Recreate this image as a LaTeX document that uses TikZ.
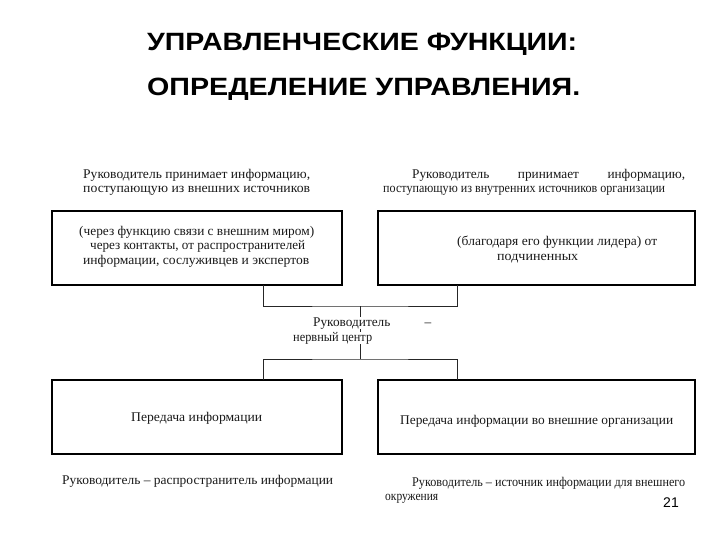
\documentclass[tikz,border=0pt]{standalone}
\usepackage{fontspec}
\setmainfont{Liberation Serif}
\newfontfamily\arialfont{Liberation Sans}
\newcommand{\fw}[2]{\resizebox{#1pt}{\height}{#2}}
\begin{document}
\begin{tikzpicture}[x=1pt,y=-1pt,
  box/.style={draw=black,line width=1.6pt},
  conn/.style={draw=black!85,line width=0.9pt},
  txt/.style={font=\fontsize{13.3}{14}\selectfont,inner sep=0pt,text=black!90},
  ttl/.style={font=\arialfont\bfseries\fontsize{25}{28}\selectfont,inner sep=0pt,anchor=base west}]
\useasboundingbox (0,0) rectangle (720,540);
% title
\node[ttl] (t1) at (147,51) {\fw{430}{УПРАВЛЕНЧЕСКИЕ ФУНКЦИИ:}};
\node[ttl] (t2) at (147,96) {\fw{433}{ОПРЕДЕЛЕНИЕ УПРАВЛЕНИЯ.}};
% boxes
\draw[box] (52,211) rectangle (342,285);
\draw[box] (378,211) rectangle (695,285);
\draw[box] (52,380) rectangle (342,454);
\draw[box] (378,380) rectangle (695,454);
\coordinate (tlb) at (263,285);
\coordinate (trb) at (457,285);
\coordinate (jt) at (360,306);
\coordinate (jb) at (360,359);
\coordinate (blt) at (263,380);
\coordinate (brt) at (457,380);
\draw[conn] (tlb) |- (jt) -| (trb);
\draw[conn] (jt) -- (jb);
\draw[conn] (blt) |- (jb) -| (brt);
% top-left caption and box text
\node[txt,anchor=base west] (c1a) at (83,179) {\fw{227}{Руководитель принимает информацию,}};
\node[txt,anchor=base west] (c1b) at (83,193) {\fw{227}{поступающую из внешних источников}};
\node[txt,anchor=base west] (b1a) at (79,236) {\fw{235}{(через функцию связи с внешним миром)}};
\node[txt,anchor=base west] (b1b) at (90,250) {\fw{215}{через контакты, от распространителей}};
\node[txt,anchor=base west] (b1c) at (83,264) {\fw{226}{информации, сослуживцев и экспертов}};
% top-right caption and box text
\node[txt,anchor=base west] (c2a) at (412,179) {\makebox[273pt][s]{Руководитель\hfill принимает\hfill информацию,}};
\node[txt,anchor=base west] (c2b) at (383,193) {\fw{282}{поступающую из внутренних источников организации}};
\node[txt,anchor=base west] (b2a) at (457,246) {\fw{200}{(благодаря его функции лидера) от}};
\node[txt,anchor=base west] (b2b) at (497,261) {\fw{81}{подчиненных}};
% middle
\node[txt,anchor=base west,fill=white] (m1) at (313,326) {\makebox[118pt][s]{Руководитель\hfill –}};
\node[txt,anchor=base west,fill=white] (m2) at (293,341) {\fw{79}{нервный центр}};
% bottom boxes
\node[txt,anchor=base west] (b3) at (131,421) {\fw{131}{Передача информации}};
\node[txt,anchor=base west] (b4) at (400,424) {\fw{273}{Передача информации во внешние организации}};
% bottom captions
\node[txt,anchor=base west] (c3) at (62,484) {\fw{271}{Руководитель – распространитель информации}};
\node[txt,anchor=base west] (c4a) at (412,486) {\fw{273}{Руководитель – источник информации для внешнего}};
\node[txt,anchor=base west] (c4b) at (385,500) {\fw{53}{окружения}};
\node[font=\arialfont\fontsize{14}{16}\selectfont,inner sep=0pt,anchor=base] (pg) at (671,507) {21};
\end{tikzpicture}
\end{document}
